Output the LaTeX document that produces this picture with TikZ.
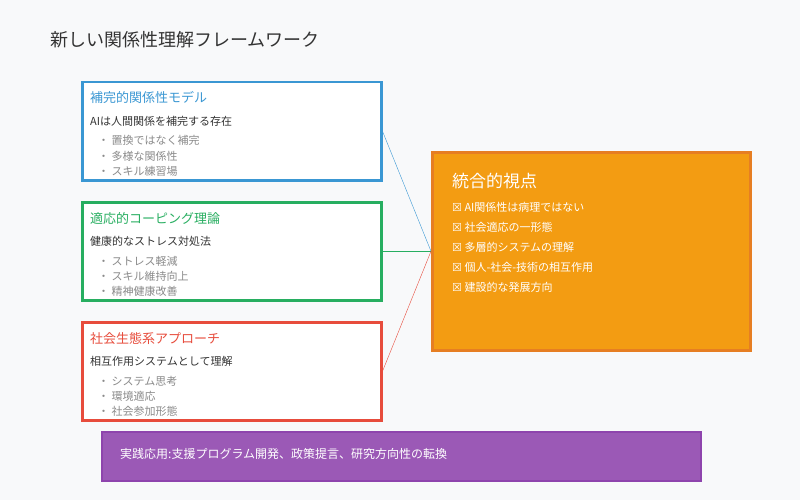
\documentclass[tikz,border=0pt]{standalone}
\usepackage{fontspec}
\setmainfont{Noto Sans CJK JP}
\newfontfamily\symfont{DejaVu Sans}
\definecolor{bg}{HTML}{F8F9FA}
\definecolor{cblue}{HTML}{3A97D3}
\definecolor{cgreen}{HTML}{27AE60}
\definecolor{cred}{HTML}{E74C3C}
\definecolor{corange}{HTML}{F39C12}
\definecolor{corangeb}{HTML}{E67E22}
\definecolor{cpurple}{HTML}{9B59B6}
\definecolor{cpurpleb}{HTML}{8E44AD}
\definecolor{ctext}{HTML}{333333}
\definecolor{cgray}{HTML}{8A8A8A}
\newcommand{\chk}{{\symfont\char"2612}\ }

\begin{document}
\begin{tikzpicture}[x=1pt, y=-1pt]
    \tikzset{every node/.style={inner sep=0pt, anchor=base west}}
    \tikzset{panel/.style={draw, line width=2.5pt, fill=white, minimum width=299pt, minimum height=98pt, anchor=north west}}
    \tikzset{head/.style={font=\fontsize{13}{15}\selectfont}}
    \tikzset{sub/.style={font=\fontsize{11}{13}\selectfont, text=ctext}}
    \tikzset{item/.style={font=\fontsize{11}{13}\selectfont, text=cgray}}
    \tikzset{point/.style={font=\fontsize{11}{13}\selectfont, text=white}}

    \fill [bg] (0,0) rectangle (800,500);

    \node (title) at (50,47) [font=\fontsize{18}{20}\selectfont, text=ctext] {新しい関係性理解フレームワーク};

    % left panels
    \node (p1) at (81,81) [panel, draw=cblue] {};
    \node (p2) at (81,201) [panel, draw=cgreen] {};
    \node (p3) at (81,321) [panel, draw=cred] {};

    \node (h1) at (90,103) [head, text=cblue] {補完的関係性モデル};
    \node (s1) at (90,125) [sub] {AIは人間関係を補完する存在};
    \node (i1) at (98,145) [item] {・ 置換ではなく補完};
    \node (j1) at (98,160) [item] {・ 多様な関係性};
    \node (k1) at (98,175) [item] {・ スキル練習場};

    \node (h2) at (90,223) [head, text=cgreen] {適応的コーピング理論};
    \node (s2) at (90,245) [sub] {健康的なストレス対処法};
    \node (i2) at (98,265) [item] {・ ストレス軽減};
    \node (j2) at (98,280) [item] {・ スキル維持向上};
    \node (k2) at (98,295) [item] {・ 精神健康改善};

    \node (h3) at (90,343) [head, text=cred] {社会生態系アプローチ};
    \node (s3) at (90,365) [sub] {相互作用システムとして理解};
    \node (i3) at (98,385) [item] {・ システム思考};
    \node (j3) at (98,400) [item] {・ 環境適応};
    \node (k3) at (98,415) [item] {・ 社会参加形態};

    % integrated view
    \node (view) at (431,151) [draw=corangeb, fill=corange, line width=2.5pt, minimum width=318pt, minimum height=198pt, anchor=north west] {};
    \node (vt) at (452,187) [font=\fontsize{17}{19}\selectfont, text=white] {統合的視点};
    \node (v1) at (452,211) [point] {\chk AI関係性は病理ではない};
    \node (v2) at (452,231) [point] {\chk 社会適応の一形態};
    \node (v3) at (452,251) [point] {\chk 多層的システムの理解};
    \node (v4) at (452,271) [point] {\chk 個人-社会-技術の相互作用};
    \node (v5) at (452,291) [point] {\chk 建設的な発展方向};

    % practice
    \node (app) at (101,431) [draw=cpurpleb, fill=cpurple, line width=1.5pt, minimum width=599pt, minimum height=49pt, anchor=north west] {};
    \node (at) at (120,458) [font=\fontsize{12}{14}\selectfont, text=white] {実践応用:支援プログラム開発、政策提言、研究方向性の転換};

    \draw [cblue] (p1.east) -- (view.west);
    \draw [cgreen] (p2.east) -- (view.west);
    \draw [cred] (p3.east) -- (view.west);
\end{tikzpicture}
\end{document}
